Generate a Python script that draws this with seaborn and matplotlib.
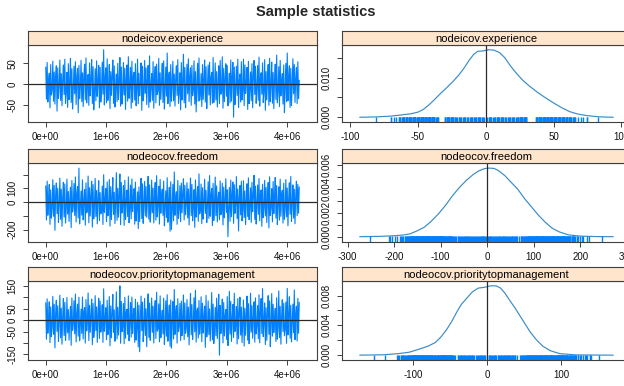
import numpy as np
import matplotlib
matplotlib.use("Agg")
import matplotlib.pyplot as plt
import seaborn as sns

sns.set_style("ticks")
plt.rcParams["font.family"] = ["Liberation Sans", "DejaVu Sans"]
plt.rcParams["path.simplify"] = False

# ---------------------------------------------------------------- data
params = ["nodeicov.experience", "nodeocov.freedom",
          "nodeocov.prioritytopmanagement"]

# thinned MCMC draws, one every `interval` iterations starting at 0
interval = 11700

trace_experience = [
    41, -37, 52, -44, 8, 26, -58, 47, -27, -15, 55, -42, 29, -49, 19, 44, -66, 39, -35, -4,
    58, -40, 25, -53, 12, 46, -26, 60, -47, -20, 28, -57, 49, -38, 3, 62, -45, 37, -61, -11,
    43, -24, 54, -50, 16, 38, -70, 45, -36, -7, 57, -43, 27, -55, 21, 48, -39, 63, -46, -1,
    23, -52, 51, -29, 10, 59, -48, 42, -63, -18, 37, -41, 56, -30, 5, 45, -58, 40, -44, -13,
    53, -25, 83, -51, 14, 39, -46, 61, -40, -9, 47, -60, 30, -28, 22, 58, -47, 44, -56, -3,
    24, -43, 50, -38, 7, 64, -54, 41, -49, -17, 52, -27, 38, -62, 11, 46, -42, 66, -35, -6,
    40, -59, 55, -45, 18, 28, -39, 49, -53, -12, 60, -48, 26, -29, 2, 51, -64, 43, -41, -21,
    57, -23, 39, -50, 9, 45, -57, 68, -44, -5, 25, -40, 54, -59, 15, 42, -46, 48, -26, -16,
    62, -52, 27, -38, 4, 50, -45, 56, -61, -10, 41, -30, 75, -48, 20, 29, -55, 47, -42, -2,
    55, -41, 24, -54, 13, 44, -28, 59, -47, -19, 27, -63, 52, -39, 6, 72, -46, 40, -58, -8,
    48, -24, 61, -43, 17, 39, -52, 45, -29, -14, 56, -49, 30, -68, 1, 50, -42, 63, -40, -22,
    25, -55, 47, -38, 11, 58, -44, 42, -60, -6, 46, -27, 53, -51, 16, 28, -47, 64, -45, -11,
    51, -39, 30, -56, 3, 44, -48, 57, -25, -18, 66, -59, 38, -43, 12, 49, -30, 45, -53, -4,
    26, -46, 58, -42, 19, 52, -81, 41, -50, -9, 43, -28, 60, -57, 7, 24, -44, 54, -39, -15,
    60, -53, 46, -23, 2, 40, -62, 55, -48, -13, 29, -41, 49, -58, 21, 57, -26, 43, -47, -7,
    45, -40, 65, -54, 14, 27, -25, 51, -45, -20, 59, -64, 30, -39, 8, 47, -52, 62, -43, -3,
    53, -47, 28, -60, 10, 48, -38, 70, -46, -16, 42, -55, 57, -29, 4, 25, -49, 46, -70, -10,
    50, -43, 75, -41, 18, 44, -57, 38, -52, -5, 61, -24, 47, -45, 13, 40, -48, 54, -36, 9,
]

trace_freedom = [
    118, -131, 152, -96, 23, 127, -162, 89, -117, -44, 163, -104, 121, -205, 57, 139, -85, 101, -148, -11,
    174, -126, 94, -177, 34, 144, -109, 132, -152, -52, 167, -88, 77, -141, 15, 108, -186, 157, -73, -28,
    135, -98, 182, -145, 62, 114, -116, 247, -159, -37, 80, -95, 162, -130, 6, 92, -168, 140, -79, -60,
    189, -151, 105, -102, 45, 152, -182, 127, -122, -19, 172, -105, 84, -158, 28, 155, -135, 69, -86, -66,
    117, -163, 199, -75, 12, 98, -143, 147, -101, -48, 164, -175, 112, -128, 39, 178, -91, 72, -156, -3,
    214, -133, 100, -110, 53, 204, -165, 143, -80, -25, 120, -170, 159, -127, 8, 87, -106, 183, -150, -57,
    123, -123, 168, -70, 31, 97, -161, 145, -138, -41, 74, -193, 110, -142, 64, 173, -120, 133, -155, -9,
    150, -102, 113, -111, 20, 187, -125, 125, -146, -55, 160, -78, 102, -152, 36, 142, -132, 192, -108, -16,
    115, -160, 165, -81, 49, 94, -97, 153, -173, -30, 82, -113, 177, -147, 4, 107, -212, 148, -198, -63,
    129, -136, 219, -96, 25, 75, -162, 158, -118, -47, 119, -143, 138, -78, 59, 169, -130, 122, -93, -13,
    141, -115, 96, -167, 41, 175, -99, 128, -137, -34, 90, -184, 161, -109, 17, 113, -140, 205, -87, -58,
    131, -157, 104, -124, 2, 166, -83, 85, -149, -22, 148, -119, 193, -103, 51, 99, -171, 136, -134, -7,
    182, -100, 118, -145, 29, 73, -129, 154, -92, -62, 137, -166, 109, -114, 11, 170, -76, 89, -252, -39,
    106, -139, 160, -107, 56, 146, -154, 126, -82, -18, 185, -121, 95, -210, 33, 120, -94, 151, -137, -50,
    156, -112, 81, -164, 7, 133, -105, 176, -128, -27, 103, -148, 144, -71, 46, 195, -126, 116, -160, -5,
    124, -90, 171, -135, 61, 88, -177, 130, -113, -42, 158, -101, 107, -150, 19, 142, -188, 184, -97, -32,
    97, -144, 149, -84, 38, 179, -118, 121, -164, -14, 111, -131, 166, -104, 54, 86, -153, 137, -125, -45,
    163, -108, 102, -172, 26, 140, -89, 186, -141, -8, 125, -117, 93, -158, 42, 152, -99, 128, -81, 110,
]

trace_priority = [
    77, -83, 94, -57, 12, 81, -98, 59, -72, -27, 105, -62, 70, -121, 33, 88, -49, 64, -93, -5,
    110, -77, 53, -105, 20, 95, -67, 79, -88, -36, 100, -55, 47, -87, 7, 61, -110, 98, -44, -15,
    86, -60, 115, -95, 28, 71, -70, 101, -90, -22, 49, -58, 102, -82, 38, 56, -100, 91, -47, -3,
    120, -89, 66, -53, 17, 93, -107, 74, -75, -31, 108, -45, 59, -97, 24, 97, -80, 84, -52, -10,
    68, -97, 138, -48, 3, 55, -85, 88, -63, -39, 104, -112, 63, -77, 30, 113, -54, 46, -92, -18,
    125, -82, 57, -65, 14, 151, -101, 83, -50, -25, 73, -103, 101, -79, 36, 48, -62, 107, -90, -8,
    78, -74, 102, -59, 22, 52, -97, 92, -87, -34, 79, -117, 66, -138, 9, 106, -46, 80, -94, -20,
    96, -67, 51, -116, 32, 116, -75, 76, -88, -1, 98, -53, 62, -100, 26, 86, -80, 123, -48, -37,
    72, -95, 107, -77, 5, 44, -60, 97, -106, -29, 86, -70, 112, -92, 19, 67, -114, 89, -122, -12,
    82, -82, 135, -62, 35, 64, -100, 94, -50, -23, 74, -89, 84, -67, 10, 111, -85, 76, -57, -33,
    91, -72, 58, -108, 25, 118, -64, 69, -84, -6, 99, -51, 132, -96, 40, 54, -78, 87, -61, -19,
    103, -94, 75, -56, 15, 62, -119, 109, -73, -38, 85, -63, 50, -91, 2, 122, -86, 71, -102, -26,
    57, -68, 97, -80, 31, 114, -153, 65, -58, -11, 93, -99, 78, -69, 21, 47, -84, 104, -111, -35,
    127, -61, 83, -93, 8, 69, -76, 119, -49, -24, 60, -104, 95, -81, 34, 101, -65, 58, -98, -4,
    89, -113, 53, -66, 18, 106, -87, 73, -103, -32, 119, -52, 64, -79, 11, 81, -96, 98, -60, -21,
    65, -81, 112, -99, 37, 95, -58, 139, -72, -9, 76, -107, 55, -88, 27, 108, -62, 85, -115, -14,
    117, -70, 70, -54, 4, 52, -93, 99, -83, -30, 129, -76, 61, -105, 16, 90, -50, 75, -68, -40,
    80, -101, 140, -64, 23, 103, -79, 66, -95, -7, 71, -55, 133, -85, 29, 62, -91, 96, -57, 79,
]

# kernel density estimates of each parameter
dens_x_experience = [-93, -80, -70, -62, -55, -50, -46, -42, -38, -34, -29, -24, -20, -16,
                     -12, -9, -6, -2, 2, 6, 10, 14, 18, 22, 27, 32, 38, 44, 50, 56, 62,
                     68, 75, 84, 94]
dens_y_experience = [0.0, 0.0001, 0.0003, 0.0006, 0.0009, 0.0013, 0.0020, 0.0031, 0.0044,
                     0.0058, 0.0074, 0.0091, 0.0106, 0.0124, 0.0145, 0.0158, 0.0166, 0.0167,
                     0.0170, 0.0169, 0.0163, 0.0150, 0.0130, 0.0113, 0.0094, 0.0079, 0.0063,
                     0.0049, 0.0036, 0.0024, 0.0014, 0.0008, 0.0004, 0.0001, 0.0]

dens_x_freedom = [-274, -230, -200, -180, -165, -150, -135, -120, -105, -90, -75, -60, -45,
                  -30, -18, -5, 5, 15, 25, 38, 50, 65, 80, 95, 110, 125, 140, 155, 175,
                  200, 235, 271]
dens_y_freedom = [0.0, 0.00003, 0.00008, 0.00014, 0.00025, 0.0005, 0.0008, 0.0013, 0.0019,
                  0.0026, 0.0034, 0.0041, 0.0047, 0.0052, 0.0055, 0.0057, 0.00573, 0.0057,
                  0.0055, 0.0051, 0.0046, 0.0040, 0.0032, 0.0025, 0.0018, 0.0012, 0.0007,
                  0.0004, 0.00015, 0.00005, 0.00001, 0.0]

dens_x_priority = [-172, -140, -120, -105, -92, -80, -70, -62, -55, -48, -41, -35, -28,
                   -20, -12, -4, 4, 12, 18, 24, 30, 37, 44, 51, 58, 66, 75, 85, 98, 120, 170]
dens_y_priority = [0.0, 0.00005, 0.0002, 0.0004, 0.0008, 0.0012, 0.0017, 0.0025, 0.0034,
                   0.0045, 0.0058, 0.0068, 0.0076, 0.0085, 0.0090, 0.0091, 0.0093, 0.0093,
                   0.0090, 0.0083, 0.0074, 0.0064, 0.0053, 0.0042, 0.0031, 0.0021, 0.0012,
                   0.0006, 0.0002, 0.00003, 0.0]

traces = [trace_experience, trace_freedom, trace_priority]
dens_x = [dens_x_experience, dens_x_freedom, dens_x_priority]
dens_y = [dens_y_experience, dens_y_freedom, dens_y_priority]

iter_ticks = [0, 1e6, 2e6, 3e6, 4e6]
iter_labels = ["0e+00", "1e+06", "2e+06", "3e+06", "4e+06"]
trace_yticks = [[-50, 0, 50], [-200, -100, 0, 100, 200],
                [-150, -100, -50, 0, 50, 100, 150]]
trace_ylabels = [["-50", "0", "50"], ["-200", "", "0", "100", ""],
                 ["-150", "", "-50", "0", "50", "", "150"]]
dens_xticks = [[-100, -50, 0, 50, 100], [-300, -200, -100, 0, 100, 200, 300],
               [-100, 0, 100]]
dens_yticks = [[0, 0.005, 0.010, 0.015],
               [0, 0.001, 0.002, 0.003, 0.004, 0.005, 0.006],
               [0, 0.002, 0.004, 0.006, 0.008]]
dens_ylabels = [["0.000", "", "0.010", ""],
                ["0.000", "", "0.002", "", "0.004", "", "0.006"],
                ["0.000", "", "0.004", "", "0.008"]]

# ---------------------------------------------------------------- style
LINE = "#0080ff"
DENS = "#3a8cc6"
STRIP = "#ffe5cc"
BOX = "#404040"
REF = "#2a2a2a"

W, H = 624, 386
fig = plt.figure(figsize=(W / 100, H / 100), dpi=100)

# panel geometry in pixels: (top of plot, bottom of plot)
rows_px = [(45, 122), (163.3, 241.5), (281, 360)]
strip_h = 14
cols_px = [(28, 317), (342, 631)]


def rect(x0, x1, y0, y1):
    return [x0 / W, 1 - y1 / H, (x1 - x0) / W, (y1 - y0) / H]


def padded(lo, hi, f=0.07):
    span = hi - lo
    return lo - f * span, hi + f * span


def style_axes(ax):
    for s in ax.spines.values():
        s.set_color(BOX)
        s.set_linewidth(0.8)
    ax.tick_params(direction="out", length=3.5, width=0.7, color=BOX,
                   labelsize=7, pad=4, labelcolor="#111111")
    ax.tick_params(axis="y", labelrotation=90)
    for lab in ax.get_yticklabels():
        lab.set_va("center")
    ax.set_xlabel("")
    ax.set_ylabel("")


def add_strip(x0, x1, top, label):
    sax = fig.add_axes(rect(x0, x1, top - strip_h, top))
    sax.set_facecolor(STRIP)
    sax.set_xticks([])
    sax.set_yticks([])
    for s in sax.spines.values():
        s.set_color(BOX)
        s.set_linewidth(0.8)
    sax.text(0.5, 0.45, label, ha="center", va="center", fontsize=8,
             color="black", transform=sax.transAxes)


for i, name in enumerate(params):
    top, bot = rows_px[i]
    vals = np.asarray(traces[i], dtype=float)
    iters = np.arange(len(vals)) * interval

    # trace panel
    (lx0, lx1) = cols_px[0]
    ax = fig.add_axes(rect(lx0, lx1, top, bot))
    sns.lineplot(x=iters, y=vals, ax=ax, color=LINE, lw=0.8,
                 estimator=None, sort=False)
    ax.axhline(0, color=REF, lw=0.9, zorder=3)
    ax.set_xlim(*padded(iters.min(), iters.max()))
    ax.set_ylim(*padded(vals.min(), vals.max()))
    ax.set_xticks(iter_ticks)
    ax.set_xticklabels(iter_labels)
    ax.set_yticks(trace_yticks[i])
    ax.set_yticklabels(trace_ylabels[i])
    style_axes(ax)
    add_strip(lx0, lx1, top, name)

    # density panel
    (rx0, rx1) = cols_px[1]
    ax2 = fig.add_axes(rect(rx0, rx1, top, bot))
    dx = np.asarray(dens_x[i], dtype=float)
    dy = np.asarray(dens_y[i], dtype=float)
    sns.lineplot(x=dx, y=dy, ax=ax2, color=DENS, lw=0.85,
                 estimator=None, sort=False)
    sns.rugplot(x=vals, ax=ax2, height=0.065, color=LINE, lw=0.7)
    ax2.axvline(0, color=REF, lw=0.9, zorder=3)
    ax2.set_xlim(*padded(dx.min(), dx.max()))
    ax2.set_ylim(*padded(0, dy.max()))
    ax2.set_xticks(dens_xticks[i])
    ax2.set_xticklabels([str(t) for t in dens_xticks[i]])
    ax2.set_yticks(dens_yticks[i])
    ax2.set_yticklabels(dens_ylabels[i])
    style_axes(ax2)
    add_strip(rx0, rx1, top, name)

fig.text(316 / W, 1 - 12 / H, "Sample statistics", ha="center", va="center",
         fontsize=10.5, fontweight="bold")

fig.savefig("out.png", dpi=100)
